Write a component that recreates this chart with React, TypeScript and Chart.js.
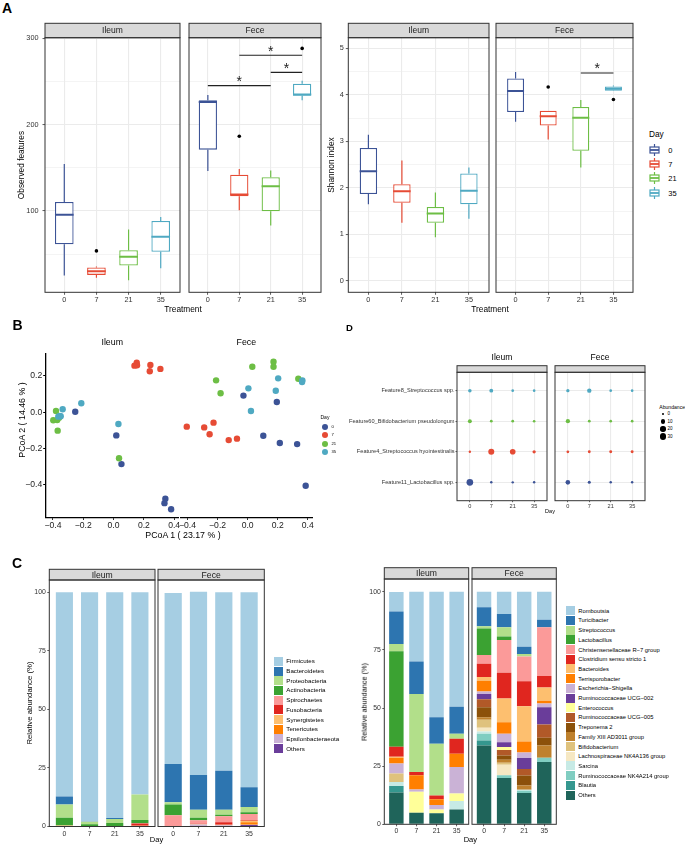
import React, { useEffect, useRef } from "react";
import { Chart, registerables } from "chart.js";

Chart.register(...registerables);

const FONT = "'Liberation Sans', Arial, Helvetica, sans-serif";
Chart.defaults.font.family = FONT;

const DAYS = ["0", "7", "21", "35"];
const DAY_COLORS = ["#3C5396", "#E64B35", "#6DBE45", "#4FA9C2"];

// ---------- Panel A: box summaries per day [lower whisker, Q1, median, Q3, upper whisker]
const observedIleum = [
  [25, 61.3, 95.4, 110.4, 154.5],
  [22.4, 25.8, 30, 34.3, 35.5],
  [19.6, 36.6, 46.7, 54.4, 78.3],
  [33.5, 52.5, 70, 88.4, 93],
];
const observedIleumOutliers = [[], [53.6], [], []];
const observedFece = [
  [146.3, 171, 226.3, 228.2, 234.4],
  [100.7, 117, 119, 142, 148.7],
  [83, 99.6, 128.5, 139, 146.7],
  [228.2, 233.6, 234.8, 247.5, 251],
];
const observedFeceOutliers = [[], [186.5], [], [288.4]];
const observedFeceSignif = [[0, 2, 245.2], [1, 3, 280.4], [2, 3, 260.6]];
const observedMajor = [100, 200, 300];
const observedMinor = [50, 150, 250];

const shannonIleum = [
  [1.65, 1.87, 2.36, 2.86, 3.14],
  [1.25, 1.68, 1.93, 2.08, 2.59],
  [0.94, 1.25, 1.45, 1.59, 1.9],
  [1.34, 1.65, 1.94, 2.31, 2.44],
];
const shannonIleumOutliers = [[], [], [], []];
const shannonFece = [
  [3.42, 3.63, 4.08, 4.35, 4.49],
  [3.04, 3.34, 3.54, 3.66, 3.66],
  [2.44, 2.8, 3.51, 3.74, 3.89],
  [4.08, 4.09, 4.13, 4.18, 4.2],
];
const shannonFeceOutliers = [[], [4.17], [], [3.9]];
const shannonFeceSignif = [[2, 3, 4.47]];
const shannonMajor = [0, 1, 2, 3, 4, 5];
const shannonMinor = [0.5, 1.5, 2.5, 3.5, 4.5];

// ---------- Panel B: PCoA coordinates [PCoA1, PCoA2] per day
const pcoaIleum = [
  [[-0.253, 0.003], [0.018, -0.127], [0.052, -0.285], [0.342, -0.476], [0.336, -0.5], [0.38, -0.534]],
  [[0.138, 0.257], [0.153, 0.273], [0.155, 0.259], [0.243, 0.261], [0.239, 0.226], [0.309, 0.239]],
  [[-0.38, 0.007], [-0.398, -0.044], [-0.372, -0.042], [-0.369, -0.101], [0.036, -0.253], [-0.36, -0.03]],
  [[-0.336, 0.017], [-0.213, 0.05], [-0.349, -0.022], [-0.365, -0.024], [0.032, -0.064], [-0.355, -0.02]],
];
const pcoaFece = [
  [[-0.028, 0.092], [0.194, 0.057], [0.104, -0.129], [0.214, -0.169], [0.329, -0.175], [0.386, -0.404]],
  [[-0.405, -0.079], [-0.289, -0.083], [-0.227, -0.057], [-0.253, -0.121], [-0.126, -0.153], [-0.071, -0.145]],
  [[-0.21, 0.176], [-0.18, 0.105], [0.031, 0.251], [0.172, 0.279], [0.172, 0.251], [0.337, 0.185]],
  [[0.005, 0.132], [0.022, 0.007], [0.203, 0.187], [0.187, 0.119], [0.364, 0.176], [0.362, 0.167]],
];
const pcoaXTicks = [-0.4, -0.2, 0, 0.2, 0.4];
const pcoaYTicks = [-0.4, -0.2, 0, 0.2];

// ---------- Panel D: feature abundance (rows bottom -> top, columns = days)
const FEATURES = [
  "Feature11_Lactobacillus spp.",
  "Feature4_Streptococcus hyointestinalis",
  "Feature60_Bifidobacterium pseudolongum",
  "Feature8_Streptococcus spp.",
];
const FEATURE_COLORS = ["#3C5396", "#E64B35", "#6DBE45", "#4FA9C2"];
const abundanceIleum = [
  [38, 0.4, 0.3, 0.4],
  [0.3, 28, 23, 3],
  [6.5, 1, 1, 0.7],
  [4, 6, 0.8, 0.6],
];
const abundanceFece = [
  [12, 1.8, 0.4, 0.4],
  [1, 1.2, 1.5, 1.5],
  [9, 1, 0.8, 0.8],
  [3, 10, 0.8, 0.8],
];
const abundanceLegend = [0, 10, 20, 30];

// ---------- Panel C: relative abundance (%) per taxon (legend order), columns = days
const PHYLA = [
  "Firmicutes", "Bacteroidetes", "Proteobacteria", "Actinobacteria", "Spirochaetes",
  "Fusobacteria", "Synergistetes", "Tenericutes", "Epsilonbacteraeota", "Others",
];
const PHYLA_COLORS = [
  "#A6CEE3", "#2D75B0", "#B2DF8A", "#3BA232", "#FB9A99",
  "#E0261F", "#FDBF6F", "#FF7F00", "#CAB2D6", "#6A3D9A",
];
const phylumIleum = [
  [87.2, 97.9, 96.4, 86.3],
  [3.4, 0.1, 0.4, 0],
  [5.7, 1.0, 1.7, 10.9],
  [3.3, 1.0, 1.3, 1.4],
  [0, 0, 0.1, 0.1],
  [0, 0, 0.1, 1.0],
  [0.3, 0, 0, 0.2],
  [0.1, 0, 0, 0.1],
  [0, 0, 0, 0],
  [0, 0, 0, 0],
];
const phylumFece = [
  [72.9, 78.2, 76.2, 83.2],
  [16.3, 14.8, 16.7, 8.5],
  [1.0, 3.5, 2.1, 2.2],
  [4.6, 1.0, 0.6, 0.8],
  [4.6, 1.5, 2.6, 2.5],
  [0.1, 0.1, 1.1, 0.3],
  [0.1, 0.1, 0.1, 0.7],
  [0, 0.1, 0.1, 1.0],
  [0, 0.7, 0.3, 0.2],
  [0, 0.2, 0.2, 0.6],
];
const GENERA = [
  "Romboutsia", "Turicibacter", "Streptococcus", "Lactobacillus", "Christensenellaceae R−7 group",
  "Clostridium sensu stricto 1", "Bacteroides", "Terrisporobacter", "Escherichia−Shigella",
  "Ruminococcaceae UCG−002", "Enterococcus", "Ruminococcaceae UCG−005", "Treponema 2",
  "Family XIII AD3011 group", "Bifidobacterium", "Lachnospiraceae NK4A136 group", "Sarcina",
  "Ruminococcaceae NK4A214 group", "Blautia", "Others",
];
const GENERA_COLORS = [
  "#A6CEE3", "#2D75B0", "#B2DF8A", "#3BA232", "#FB9A99", "#E0261F", "#FDBF6F", "#FF7F00",
  "#CAB2D6", "#6A3D9A", "#FFFF99", "#B15928", "#8C510A", "#BF812D", "#DFC27D", "#F6E8C3",
  "#C7EAE5", "#80CDC1", "#35978F", "#1F645A",
];
const genusIleum = [
  [8.4, 30, 54, 49.4],
  [14, 14, 11.4, 11.7],
  [3.1, 33.5, 22.2, 2.1],
  [41, 0, 0, 0],
  [0, 0, 0, 0],
  [4.3, 1.4, 1.6, 6.5],
  [0.5, 0, 0, 0],
  [2.5, 6.1, 2.5, 5.7],
  [4.3, 1, 1.9, 11.4],
  [0, 0, 0, 0],
  [0, 9, 1.7, 3.2],
  [0, 0, 0, 0],
  [0, 0, 0, 0],
  [0, 0, 0, 0],
  [3.6, 0, 0, 0],
  [0, 0, 0, 0],
  [1.7, 0, 0, 3.6],
  [0, 0, 0, 0],
  [2.8, 0, 0, 0],
  [13.7, 5, 4.7, 6.4],
];
const genusFece = [
  [6.7, 9.5, 23.6, 12],
  [8.1, 5.7, 3.2, 3.2],
  [1, 4, 1, 0],
  [11.4, 1.5, 0, 0],
  [3.7, 14.1, 10.7, 21],
  [5.7, 11.1, 10.7, 5],
  [1.7, 10.2, 15.2, 5.7],
  [4.6, 5, 4.7, 1.1],
  [1.1, 3.6, 2.4, 1.7],
  [2.2, 2.1, 4.7, 7.4],
  [0, 1.2, 0, 0],
  [3.5, 2.4, 2.8, 5.7],
  [4.3, 1.8, 4.3, 3.3],
  [1, 1.3, 1.8, 5.3],
  [3.5, 0.9, 0, 0],
  [1.6, 4.5, 0, 0],
  [1, 0, 0.5, 0],
  [2.9, 1.2, 0.9, 1.8],
  [2.1, 0, 0, 0],
  [33.9, 19.9, 13.5, 26.8],
];
const abundanceTicks = [0, 25, 50, 75, 100];

// ---------- helpers
type Rect = { l: number; t: number; r: number; b: number };
type Ext = { l: number; t: number; r: number; b: number; yW: number; xH: number };
type Place = {
  cl: number; ct: number; cw: number; ch: number;
  padding: { left: number; top: number; right: number; bottom: number };
  yW: number; xH: number;
};

function place(plot: Rect, ext: Ext): Place {
  const cl = Math.floor(plot.l - ext.l);
  const ct = Math.floor(plot.t - ext.t);
  const cw = Math.ceil(plot.r + ext.r) - cl;
  const ch = Math.ceil(plot.b + ext.b) - ct;
  return {
    cl, ct, cw, ch,
    padding: {
      left: plot.l - cl - ext.yW,
      top: plot.t - ct,
      right: cl + cw - plot.r,
      bottom: ct + ch - plot.b - ext.xH,
    },
    yW: ext.yW,
    xH: ext.xH,
  };
}

const setTicks = (vals: number[]) => (s: any) => {
  s.ticks = vals.map((v) => ({ value: v }));
};
const fixW = (w: number) => (s: any) => {
  s.width = w;
};
const fixH = (h: number) => (s: any) => {
  s.height = h;
};

function makeDecor(cfg: any) {
  return {
    id: "decor",
    afterDraw(chart: any) {
      const { ctx, chartArea: ca } = chart;
      ctx.save();
      if (cfg.strip) {
        const s = cfg.strip;
        ctx.fillStyle = "#D9D9D9";
        ctx.fillRect(ca.left, ca.top - s.h, ca.right - ca.left, s.h);
        ctx.strokeStyle = "#333333";
        ctx.lineWidth = 1;
        ctx.strokeRect(ca.left, ca.top - s.h, ca.right - ca.left, s.h);
        if (s.text) {
          ctx.fillStyle = "#1A1A1A";
          ctx.font = `${s.size}px ${FONT}`;
          ctx.textAlign = "center";
          ctx.textBaseline = "middle";
          ctx.fillText(s.text, (ca.left + ca.right) / 2, ca.top - s.h / 2 + 0.5);
        }
      }
      if (cfg.title) {
        const t = cfg.title;
        ctx.fillStyle = "#000";
        ctx.font = `${t.size}px ${FONT}`;
        ctx.textAlign = "center";
        ctx.textBaseline = "middle";
        ctx.fillText(t.text, (ca.left + ca.right) / 2, ca.top - t.dy);
      }
      if (cfg.frame) {
        ctx.strokeStyle = "#333333";
        ctx.lineWidth = 1;
        ctx.strokeRect(ca.left, ca.top, ca.right - ca.left, ca.bottom - ca.top);
      }
      if (cfg.texts) {
        const xs = chart.scales.x;
        const ys = chart.scales.y;
        ctx.fillStyle = "#222";
        ctx.textAlign = "center";
        ctx.textBaseline = "alphabetic";
        for (const t of cfg.texts) {
          ctx.font = `${t.size}px ${FONT}`;
          ctx.fillText(t.text, xs.getPixelForValue(t.x), ys.getPixelForValue(t.y) + t.dy);
        }
      }
      ctx.restore();
    },
  };
}

function baseOptions(p: Place, scales: any) {
  return {
    responsive: false,
    maintainAspectRatio: false,
    animation: false,
    devicePixelRatio: 1,
    events: [],
    layout: { padding: p.padding },
    plugins: { legend: { display: false }, tooltip: { enabled: false } },
    scales,
  };
}

function dayAxis(p: Place, size: number, tickLen: number, pad: number, grid: boolean) {
  return {
    type: "linear",
    min: -0.6,
    max: 3.6,
    offset: false,
    afterBuildTicks: setTicks([0, 1, 2, 3]),
    afterFit: fixH(p.xH),
    ticks: {
      callback: (v: number) => DAYS[v],
      font: { family: FONT, size },
      color: "#333",
      padding: pad,
      maxRotation: 0,
      autoSkip: false,
    },
    grid: {
      display: true,
      offset: false,
      drawOnChartArea: grid,
      color: "#EBEBEB",
      lineWidth: 1.1,
      drawTicks: true,
      tickLength: tickLen,
      tickColor: "#333",
      tickWidth: 0.8,
    },
    border: { display: false },
  };
}

// ---------- Panel A box chart
function boxChart(
  p: Place,
  o: {
    stats: number[][]; outliers: number[][]; signif?: number[][];
    min: number; max: number; major: number[]; minor: number[];
    showY: boolean; boxW: number; facet: string; stripH: number; yPad: number;
  }
) {
  const datasets: any[] = [];
  DAY_COLORS.forEach((c, i) => {
    const s = o.stats[i];
    datasets.push({
      type: "line",
      data: [{ x: i - o.boxW / 2, y: s[2] }, { x: i + o.boxW / 2, y: s[2] }],
      borderColor: c, borderWidth: 2, pointRadius: 0, order: 0,
    });
  });
  datasets.push({
    type: "bar",
    data: o.stats.map((s, i) => ({ x: i, y: [s[1], s[3]] })),
    backgroundColor: "#FFFFFF",
    borderColor: DAY_COLORS,
    borderWidth: 1.3,
    borderSkipped: false,
    barPercentage: o.boxW,
    categoryPercentage: 1,
    order: 1,
  });
  DAY_COLORS.forEach((c, i) => {
    const s = o.stats[i];
    datasets.push({
      type: "line",
      data: [{ x: i, y: s[4] }, { x: i, y: s[3] }, { x: i, y: null }, { x: i, y: s[1] }, { x: i, y: s[0] }],
      borderColor: c, borderWidth: 1.2, pointRadius: 0, order: 2,
    });
  });
  const pts = o.outliers.flatMap((arr, i) => arr.map((v) => ({ x: i, y: v })));
  if (pts.length) {
    datasets.push({ type: "scatter", data: pts, backgroundColor: "#000", borderWidth: 0, pointRadius: 1.8, order: 0 });
  }
  const texts: any[] = [];
  if (o.signif) {
    const d: any[] = [];
    o.signif.forEach(([a, b, y]) => {
      d.push({ x: a, y }, { x: b, y }, { x: b, y: null });
      texts.push({ x: (a + b) / 2, y, text: "*", size: 14, dy: 0.5 });
    });
    datasets.push({ type: "line", data: d, borderColor: "#222", borderWidth: 1.1, pointRadius: 0, order: 0 });
  }
  const all = [...o.minor, ...o.major].sort((a, b) => a - b);
  const isMajor = (c: any) => c.tick && o.major.includes(c.tick.value);
  return {
    type: "bar",
    data: { datasets },
    options: baseOptions(p, {
      x: dayAxis(p, 7.3, 2.5, 1, true),
      y: {
        type: "linear",
        min: o.min,
        max: o.max,
        beginAtZero: false,
        afterBuildTicks: setTicks(all),
        afterFit: fixW(p.yW),
        ticks: {
          display: o.showY,
          callback: (v: number) => (o.major.includes(v) ? String(v) : ""),
          font: { family: FONT, size: 7.3 },
          color: "#333",
          padding: o.yPad,
        },
        grid: {
          color: "#EBEBEB",
          lineWidth: (c: any) => (isMajor(c) ? 1.1 : 0.55),
          drawTicks: o.showY,
          tickLength: 2.5,
          tickColor: (c: any) => (isMajor(c) ? "#333" : "rgba(0,0,0,0)"),
          tickWidth: 0.8,
        },
        border: { display: false },
      },
    }),
    plugins: [makeDecor({ strip: { h: o.stripH, text: o.facet, size: 8.5 }, frame: true, texts })],
  };
}

// ---------- Panel B scatter
const fmtNum = (v: number) => (Math.abs(v) < 1e-9 ? "0.0" : v.toFixed(1).replace("-", "−"));
function pcoaChart(p: Place, pts: number[][][], facet: string, showY: boolean) {
  return {
    type: "scatter",
    data: {
      datasets: pts.map((arr, i) => ({
        data: arr.map(([x, y]) => ({ x, y })),
        backgroundColor: DAY_COLORS[i],
        borderWidth: 0,
        pointRadius: 3.2,
        order: 3 - i,
      })),
    },
    options: baseOptions(p, {
      x: {
        type: "linear", min: -0.448, max: 0.43,
        afterBuildTicks: setTicks(pcoaXTicks),
        afterFit: fixH(p.xH),
        ticks: { callback: (v: number) => fmtNum(v), font: { family: FONT, size: 8.6 }, color: "#222", padding: 1, maxRotation: 0, autoSkip: false },
        grid: { display: true, drawOnChartArea: false, drawTicks: true, tickLength: 2.5, tickColor: "#000", tickWidth: 1 },
        border: { display: true, color: "#000", width: 1.3 },
      },
      y: {
        type: "linear", min: -0.578, max: 0.321,
        afterBuildTicks: setTicks(pcoaYTicks),
        afterFit: fixW(p.yW),
        ticks: { display: showY, callback: (v: number) => fmtNum(v), font: { family: FONT, size: 8.6 }, color: "#222", padding: 1 },
        grid: { display: showY, drawOnChartArea: false, drawTicks: showY, tickLength: 2.5, tickColor: "#000", tickWidth: 1 },
        border: { display: showY, color: "#000", width: 1.3 },
      },
    }),
    plugins: [makeDecor({ title: { text: facet, size: 8.8, dy: 11.3 } })],
  };
}

// ---------- Panel D dot plot
const dotRadius = (v: number) => 1 + 0.38 * Math.sqrt(v);
function dotChart(p: Place, abund: number[][], facet: string, showY: boolean) {
  return {
    type: "bubble",
    data: {
      datasets: abund.map((row, f) => ({
        data: row.map((v, i) => ({ x: i, y: f + 1, r: dotRadius(v) })),
        backgroundColor: FEATURE_COLORS[f],
        borderWidth: 0,
      })),
    },
    options: baseOptions(p, {
      x: dayAxis(p, 5.6, 1.5, 1, true),
      y: {
        type: "linear", min: 0.4, max: 4.6,
        afterBuildTicks: setTicks([1, 2, 3, 4]),
        afterFit: fixW(p.yW),
        ticks: { display: showY, callback: (v: number) => FEATURES[v - 1], font: { family: FONT, size: 5.6 }, color: "#333", padding: 1 },
        grid: { color: "#EBEBEB", lineWidth: 1.1, drawTicks: showY, tickLength: 1.5, tickColor: "#333", tickWidth: 0.8 },
        border: { display: false },
      },
    }),
    plugins: [makeDecor({ strip: { h: 6.6 }, title: { text: facet, size: 8.5, dy: 14.6 }, frame: true })],
  };
}

// ---------- Panel C stacked bars
function stackChart(
  p: Place, rows: number[][], names: string[], colors: string[],
  facet: string, showY: boolean, barPct: number, max: number, stripH: number
) {
  const datasets = rows
    .map((row, k) => ({
      label: names[k],
      data: row.map((v, i) => ({ x: i, y: v })),
      backgroundColor: colors[k],
      borderWidth: 0,
      barPercentage: barPct,
      categoryPercentage: 1,
    }))
    .reverse();
  return {
    type: "bar",
    data: { datasets },
    options: baseOptions(p, {
      x: { ...dayAxis(p, 6.9, 2, 1, false), stacked: true },
      y: {
        type: "linear", min: 0, max, stacked: true, beginAtZero: false,
        afterBuildTicks: setTicks(abundanceTicks),
        afterFit: fixW(p.yW),
        ticks: { display: showY, callback: (v: number) => String(v), font: { family: FONT, size: 6.9 }, color: "#333", padding: 1.5 },
        grid: { display: true, drawOnChartArea: false, drawTicks: showY, tickLength: 2, tickColor: "#333", tickWidth: 0.8 },
        border: { display: false },
      },
    }),
    plugins: [makeDecor({ strip: { h: stripH, text: facet, size: 8.6 }, frame: true })],
  };
}

// ---------- chart specs (plot rectangles in page pixels)
type Spec = { p: Place; build: (p: Place) => any };
const extA1: Ext = { l: 24, t: 16, r: 2, b: 14, yW: 22, xH: 14 };
const extA2: Ext = { l: 2, t: 16, r: 2, b: 14, yW: 0, xH: 14 };
const extAR1: Ext = { l: 14, t: 16, r: 2, b: 14, yW: 12, xH: 14 };
const extB1: Ext = { l: 26, t: 18, r: 8, b: 14, yW: 24, xH: 14 };
const extB2: Ext = { l: 6, t: 18, r: 8, b: 14, yW: 0, xH: 14 };
const extD1: Ext = { l: 118, t: 20, r: 1, b: 10, yW: 116, xH: 10 };
const extD2: Ext = { l: 1, t: 20, r: 3, b: 10, yW: 0, xH: 10 };
const extC1: Ext = { l: 20, t: 13, r: 1.5, b: 12, yW: 18, xH: 12 };
const extC2: Ext = { l: 2, t: 13, r: 3, b: 12, yW: 0, xH: 12 };

const SPECS: Spec[] = [
  {
    p: place({ l: 45, t: 37.7, r: 182, b: 292.3 }, extA1),
    build: (p) => boxChart(p, { stats: observedIleum, outliers: observedIleumOutliers, min: 5.6, max: 300.8, major: observedMajor, minor: observedMinor, showY: true, boxW: 0.58, facet: "Ileum", stripH: 14.4, yPad: 4 }),
  },
  {
    p: place({ l: 187, t: 37.7, r: 323, b: 292.3 }, extA2),
    build: (p) => boxChart(p, { stats: observedFece, outliers: observedFeceOutliers, signif: observedFeceSignif, min: 5.6, max: 300.8, major: observedMajor, minor: observedMinor, showY: false, boxW: 0.58, facet: "Fece", stripH: 14.4, yPad: 4 }),
  },
  {
    p: place({ l: 348.3, t: 37.7, r: 489, b: 292.3 }, extAR1),
    build: (p) => boxChart(p, { stats: shannonIleum, outliers: shannonIleumOutliers, min: -0.243, max: 5.228, major: shannonMajor, minor: shannonMinor, showY: true, boxW: 0.52, facet: "Ileum", stripH: 14.4, yPad: 2 }),
  },
  {
    p: place({ l: 494, t: 37.7, r: 635, b: 292.3 }, extA2),
    build: (p) => boxChart(p, { stats: shannonFece, outliers: shannonFeceOutliers, signif: shannonFeceSignif, min: -0.243, max: 5.228, major: shannonMajor, minor: shannonMinor, showY: false, boxW: 0.52, facet: "Fece", stripH: 14.4, yPad: 2 }),
  },
  { p: place({ l: 45.7, t: 354, r: 178.7, b: 517.3 }, extB1), build: (p) => pcoaChart(p, pcoaIleum, "Ileum", true) },
  { p: place({ l: 180.3, t: 354, r: 312.3, b: 517.3 }, extB2), build: (p) => pcoaChart(p, pcoaFece, "Fece", false) },
  { p: place({ l: 457, t: 372.3, r: 550, b: 500.7 }, extD1), build: (p) => dotChart(p, abundanceIleum, "Ileum", true) },
  { p: place({ l: 552.3, t: 372.3, r: 645.7, b: 500.7 }, extD2), build: (p) => dotChart(p, abundanceFece, "Fece", false) },
  { p: place({ l: 49.3, t: 580, r: 155, b: 826.5 }, extC1), build: (p) => stackChart(p, phylumIleum, PHYLA, PHYLA_COLORS, "Ileum", true, 0.68, 105.2, 10.7) },
  { p: place({ l: 158, t: 580, r: 264.3, b: 826.5 }, extC2), build: (p) => stackChart(p, phylumFece, PHYLA, PHYLA_COLORS, "Fece", false, 0.68, 105.2, 10.7) },
  { p: place({ l: 384.3, t: 579, r: 468.7, b: 824.3 }, extC1), build: (p) => stackChart(p, genusIleum, GENERA, GENERA_COLORS, "Ileum", true, 0.72, 105.5, 11.3) },
  { p: place({ l: 472, t: 579, r: 556.3, b: 824.3 }, extC2), build: (p) => stackChart(p, genusFece, GENERA, GENERA_COLORS, "Fece", false, 0.72, 105.5, 11.3) },
];

// ---------- HTML text helpers
function Txt(props: { x: number; y: number; text: string; size: number; bold?: boolean; rot?: boolean; anchor?: "l" | "c"; color?: string }) {
  const { x, y, text, size, bold, rot, anchor = "c", color = "#000" } = props;
  const tx = anchor === "l" ? "0" : "-50%";
  return (
    <div
      style={{
        position: "absolute",
        left: x,
        top: y,
        transform: `translate(${tx},-50%)${rot ? " rotate(-90deg)" : ""}`,
        fontFamily: FONT,
        fontSize: size,
        fontWeight: bold ? 700 : 400,
        lineHeight: 1.2,
        whiteSpace: "nowrap",
        color,
      }}
    >
      {text}
    </div>
  );
}

function BoxKey({ x, y, color }: { x: number; y: number; color: string }) {
  return (
    <svg style={{ position: "absolute", left: x, top: y - 6 }} width={11} height={12}>
      <line x1={5.5} y1={0} x2={5.5} y2={12} stroke={color} strokeWidth={1.2} />
      <rect x={1} y={3} width={9} height={6} fill="#fff" stroke={color} strokeWidth={1.2} />
      <line x1={1} y1={6} x2={10} y2={6} stroke={color} strokeWidth={1.8} />
    </svg>
  );
}

function Dot({ x, y, r, color }: { x: number; y: number; r: number; color: string }) {
  return (
    <div style={{ position: "absolute", left: x - r, top: y - r, width: 2 * r, height: 2 * r, borderRadius: "50%", background: color }} />
  );
}

function FillLegend({ x, y0, names, colors, size }: { x: number; y0: number; names: string[]; colors: string[]; size: number }) {
  return (
    <>
      {names.map((n, i) => (
        <React.Fragment key={n}>
          <div style={{ position: "absolute", left: x, top: y0 + i * 9.7 - 4.5, width: 8.7, height: 9, background: colors[i] }} />
          <Txt x={x + 12.3} y={y0 + i * 9.7} text={n} size={size} anchor="l" />
        </React.Fragment>
      ))}
    </>
  );
}

export default function App() {
  const refs = useRef<(HTMLCanvasElement | null)[]>([]);
  useEffect(() => {
    const charts = SPECS.map((s, i) => new Chart(refs.current[i] as HTMLCanvasElement, s.build(s.p)));
    return () => charts.forEach((c) => c.destroy());
  }, []);

  return (
    <div style={{ position: "absolute", left: 0, top: 0, width: 685, height: 844, background: "#fff", overflow: "hidden" }}>
      {SPECS.map((s, i) => (
        <canvas
          key={i}
          ref={(el) => {
            refs.current[i] = el;
          }}
          width={s.p.cw}
          height={s.p.ch}
          style={{ position: "absolute", left: s.p.cl, top: s.p.ct, width: s.p.cw, height: s.p.ch }}
        />
      ))}

      {/* Panel A */}
      <Txt x={7} y={8} text="A" size={14} bold />
      <Txt x={21.7} y={165} text="Observed features" size={8.3} rot />
      <Txt x={183} y={310} text="Treatment" size={8.3} />
      <Txt x={332} y={165} text="Shannon index" size={8.3} rot />
      <Txt x={490} y={310} text="Treatment" size={8.3} />
      <Txt x={649} y={135} text="Day" size={8.3} anchor="l" />
      {DAYS.map((d, i) => (
        <React.Fragment key={d}>
          <BoxKey x={648.5} y={149.5 + i * 14.4} color={DAY_COLORS[i]} />
          <Txt x={668.3} y={149.5 + i * 14.4} text={d} size={7.5} anchor="l" />
        </React.Fragment>
      ))}

      {/* Panel B */}
      <Txt x={17.5} y={325} text="B" size={14} bold />
      <Txt x={21.7} y={420} text="PCoA 2 ( 14.46 % )" size={8.8} rot />
      <Txt x={183} y={535} text="PCoA 1 ( 23.17 % )" size={8.8} />
      <Txt x={320.5} y={417.3} text="Day" size={5} anchor="l" />
      {DAYS.map((d, i) => (
        <React.Fragment key={d}>
          <Dot x={325} y={426.7 + i * 8.45} r={3} color={DAY_COLORS[i]} />
          <Txt x={331.5} y={426.7 + i * 8.45} text={d} size={4.2} anchor="l" />
        </React.Fragment>
      ))}

      {/* Panel D */}
      <Txt x={349.5} y={328.3} text="D" size={9.5} bold />
      <Txt x={550} y={511} text="Day" size={5.5} />
      <Txt x={659.3} y={407.3} text="Abundance" size={5.1} anchor="l" />
      {abundanceLegend.map((v, i) => (
        <React.Fragment key={v}>
          <Dot x={663} y={414 + i * 7.5} r={dotRadius(v)} color="#000" />
          <Txt x={667.5} y={414 + i * 7.5} text={String(v)} size={4.5} anchor="l" />
        </React.Fragment>
      ))}

      {/* Panel C */}
      <Txt x={17} y={562.5} text="C" size={14} bold />
      <Txt x={30} y={703} text="Relative abundance (%)" size={7.8} rot />
      <Txt x={156.5} y={839} text="Day" size={7.5} />
      <FillLegend x={274} y0={661.3} names={PHYLA} colors={PHYLA_COLORS} size={6.2} />
      <Txt x={365} y={702} text="Relative abundance (%)" size={7.3} rot />
      <Txt x={470.3} y={838.5} text="Day" size={7.5} />
      <FillLegend x={566} y0={610.7} names={GENERA} colors={GENERA_COLORS} size={5.8} />
    </div>
  );
}
